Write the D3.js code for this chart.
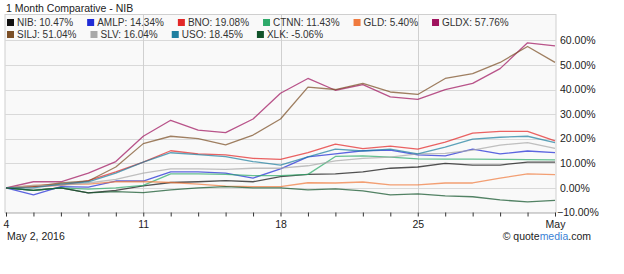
<!DOCTYPE html>
<html><head><meta charset="utf-8">
<script src="https://cdn.jsdelivr.net/npm/d3@7"></script>
<style>
body{margin:0;background:#fff;}
text{font-family:"Liberation Sans",Arial,sans-serif;}
</style></head>
<body><svg id="c" width="624" height="274"></svg>
<script>
const dates = ["2016-04-04","2016-04-05","2016-04-06","2016-04-07","2016-04-08",
  "2016-04-11","2016-04-12","2016-04-13","2016-04-14","2016-04-15",
  "2016-04-18","2016-04-19","2016-04-20","2016-04-21","2016-04-22",
  "2016-04-25","2016-04-26","2016-04-27","2016-04-28","2016-04-29","2016-05-02"];
const tickDates = ["2016-04-04","2016-04-11","2016-04-18","2016-04-25","2016-05-02"];
const tickLabels = ["4","11","18","25","May"];
const yTicks = [-10,0,10,20,30,40,50,60];

const symbols = ["NIB","AMLP","BNO","CTNN","GLD","GLDX","SILJ","SLV","USO","XLK"];
const finals = ["10.47%","14.34%","19.08%","11.43%","5.40%","57.76%","51.04%","16.04%","18.45%","-5.06%"];
const colors = ["#111111","#1f2bd6","#e32727","#2eaa6a","#f07b3f","#a0135e","#7b4f26","#a8a8a8","#1f7fa0","#11532a"];

const NIB  = [0,-1,0,-2,-1,0.8,2.2,2.5,3,2.5,4.6,5.5,5.7,6.5,8,8.5,10,9.3,9.3,10.5,10.47];
const AMLP = [0,-2.8,0.5,0.3,2.8,2.8,6.5,6.5,6,4,7.7,12.6,13.8,15.1,15.4,13.4,13,15.8,13.8,15,14.34];
const BNO  = [0,0.5,1,3,6.5,10.5,15.1,13.8,13.4,12,11.6,14.3,17.8,16,17,15.8,18.6,22.3,23,23,19.08];
const CTNN = [0,-1,0,-0.5,0,1,5.7,5.7,5.5,5,5,5.5,12.8,13,12.5,11.8,11.7,11.7,11.6,11.5,11.43];
const GLD  = [0,1,1.5,1.5,2.5,2.6,2.2,1.5,0.7,0.5,0.5,2.1,2,2.4,1.2,1.2,2,2,4,5.7,5.4];
const GLDX = [0,2.5,2.5,6,10.7,21,27.5,23.5,22.5,28,38.5,44.5,39.7,42,37,36,40,42.5,48.5,59,57.76];
const SILJ = [0,0.5,2,2.8,8.5,18,21,20,17.5,21.5,28,41,40,42.5,39,38,44.5,46.5,51,57.5,51.04];
const SLV  = [0,1,1,2,3.5,6,7.7,7.7,7.5,8,8,9,11,12,12.5,13.8,14,15.4,17.4,18.4,16.04];
const USO  = [0,0,1.5,2.5,6,10.5,14.3,13.5,12.7,10.7,9.3,12.6,15.8,15,15.8,13.8,16.6,19.8,20.6,21,18.45];
const XLK  = [0,-1,0,-2,-1.5,-1.9,-0.8,0,0.5,0,0,-0.8,-0.4,-1.2,-2.8,-2.4,-3.2,-3.6,-4.9,-5.7,-5.06];
const seriesValues = [NIB,AMLP,BNO,CTNN,GLD,GLDX,SILJ,SLV,USO,XLK];

const svg = d3.select("#c");
const L = 6, R = 555, T = 14.5, B = 212.5;

const x = d3.scalePoint().domain(dates).range([L, R]);
const y = d3.scaleLinear().domain([-10, 70.5]).range([B, T]);

svg.append("rect").attr("x", L-1).attr("y", T).attr("width", R-L+2).attr("height", B-T)
  .attr("fill", "#f9f9f9").attr("stroke", "#cfcfcf").attr("stroke-width", 1);

svg.append("g").selectAll("line").data(yTicks).join("line")
  .attr("x1", L-1).attr("x2", R+1)
  .attr("y1", d => Math.round(y(d))+0.5).attr("y2", d => Math.round(y(d))+0.5)
  .attr("stroke", "#d9d9d9").attr("stroke-width", 1);

svg.append("g").selectAll("line").data(tickDates.slice(1, -1)).join("line")
  .attr("x1", d => Math.round(x(d))+0.5).attr("x2", d => Math.round(x(d))+0.5)
  .attr("y1", T).attr("y2", B)
  .attr("stroke", "#d0d0d0").attr("stroke-width", 1);

const xAxis = d3.axisBottom(x).tickValues(dates).tickSize(4).tickFormat(d => {
  const i = tickDates.indexOf(d); return i >= 0 ? tickLabels[i] : "";
});
const gx = svg.append("g").attr("transform", `translate(0,${B})`).call(xAxis);
gx.select(".domain").attr("stroke", "#cfcfcf");
gx.selectAll(".tick line").attr("stroke", "#333");
gx.selectAll(".tick text").attr("font-size", 10.5).attr("fill", "#222").attr("dy", "0.85em")
  .attr("font-family", '"Liberation Sans",Arial,sans-serif');

svg.append("g").selectAll("text").data(yTicks).join("text")
  .attr("x", d => d < 0 ? 557 : 560).attr("y", d => y(d)).attr("dy", "0.35em")
  .attr("font-size", 10.5).attr("fill", "#222")
  .text(d => d3.format(".2f")(d) + "%");

const line = d3.line().x((d, i) => x(dates[i])).y(d => y(d));
svg.append("g").selectAll("path").data(seriesValues).join("path")
  .attr("d", d => line(d)).attr("fill", "none")
  .attr("stroke", (d, i) => colors[i]).attr("stroke-width", 1.3)
  .attr("stroke-opacity", 0.72).attr("stroke-linejoin", "round");

svg.append("text").attr("x", 6).attr("y", 12).attr("font-size", 10.5).attr("fill", "#222")
  .text("1 Month Comparative - NIB");

const lg = svg.append("g");
let lx = 7, row = 0;
symbols.forEach((s, i) => {
  if (i === 6) { lx = 7; row = 1; }
  const g = lg.append("g").attr("transform", `translate(${lx},${19 + row*12})`);
  g.append("rect").attr("x", 0).attr("y", 0).attr("width", 7).attr("height", 7).attr("fill", colors[i]);
  const t = g.append("text").attr("x", 10).attr("y", 7).attr("font-size", 10).attr("fill", "#333")
    .text(`${s}: ${finals[i]}`);
  lx += 10 + t.node().getComputedTextLength() + 14;
});

svg.append("text").attr("x", 7).attr("y", 240).attr("font-size", 10.5).attr("fill", "#222").text("May 2, 2016");
const cr = svg.append("text").attr("x", 591).attr("y", 240).attr("text-anchor", "end").attr("font-size", 10.5).attr("fill", "#222");
cr.append("tspan").text("© quote");
cr.append("tspan").attr("fill", "#3a7fd5").text("media");
cr.append("tspan").text(".com");
</script></body></html>
